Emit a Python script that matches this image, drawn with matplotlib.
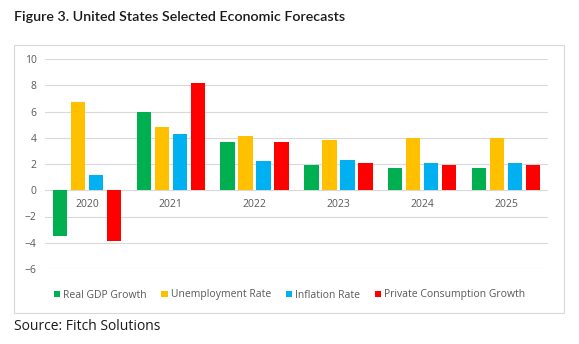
import matplotlib.pyplot as plt
import numpy as np
from matplotlib.patches import Rectangle

years = ['2020', '2021', '2022', '2023', '2024', '2025']
gdp_growth = [-3.5, 6.0, 3.7, 1.9, 1.7, 1.7]
unemployment = [6.7, 4.8, 4.1, 3.8, 4.0, 4.0]
inflation = [1.2, 4.3, 2.2, 2.3, 2.1, 2.1]
consumption = [-3.9, 8.2, 3.7, 2.1, 1.9, 1.9]

series = [
    ('Real GDP Growth', gdp_growth, '#00B050'),
    ('Unemployment Rate', unemployment, '#FFC000'),
    ('Inflation Rate', inflation, '#00B0F0'),
    ('Private Consumption Growth', consumption, '#FF0000'),
]

plt.rcParams['font.family'] = ['Open Sans', 'DejaVu Sans']

W, H = 579, 344
fig = plt.figure(figsize=(W / 100, H / 100), dpi=100)

# chart frame
fig.patches.append(Rectangle((14 / W, 1 - 313 / H), 550 / W, 268 / H,
                             transform=fig.transFigure, fill=False,
                             edgecolor='#D9D9D9', linewidth=0.8))

ax = fig.add_axes([45 / W, 1 - 269 / H, 503 / W, 210 / H])

x = np.arange(len(years))
step = 0.215
width = 0.17
for i, (name, vals, color) in enumerate(series):
    ax.bar(x + (i - 1.5) * step, vals, width, color=color, label=name, zorder=3)

ax.set_xlim(-0.5, len(years) - 0.5)
ax.set_ylim(-6, 10)
ax.set_yticks(range(-6, 11, 2))
ax.grid(axis='y', color='#D9D9D9', linewidth=0.8, zorder=0)
for s in ax.spines.values():
    s.set_visible(False)
ax.tick_params(axis='y', length=0, colors='#595959', labelsize=7.5, pad=6)
ax.set_xticks([])

# category labels sit just under the zero line
for xi, yr in zip(x, years):
    ax.text(xi, -0.7, yr, ha='center', va='top', fontsize=7.5, color='#595959')

leg = fig.legend(loc='center', bbox_to_anchor=(0.5, 1 - 295 / H), ncol=4,
                 frameon=False, fontsize=7.5, handlelength=0.6, handleheight=0.6,
                 handletextpad=0.3, columnspacing=1.4)
for t in leg.get_texts():
    t.set_color('#595959')

fig.text(14 / W, 1 - 17 / H, 'Figure 3. United States Selected Economic Forecasts',
         fontsize=10.3, fontweight='semibold', family=['Lato', 'DejaVu Sans'],
         va='center', ha='left', color='#1a1a1a')
fig.text(14 / W, 1 - 326 / H, 'Source: Fitch Solutions',
         fontsize=10, va='center', ha='left', color='#1a1a1a')

fig.savefig('out.png', dpi=100)
